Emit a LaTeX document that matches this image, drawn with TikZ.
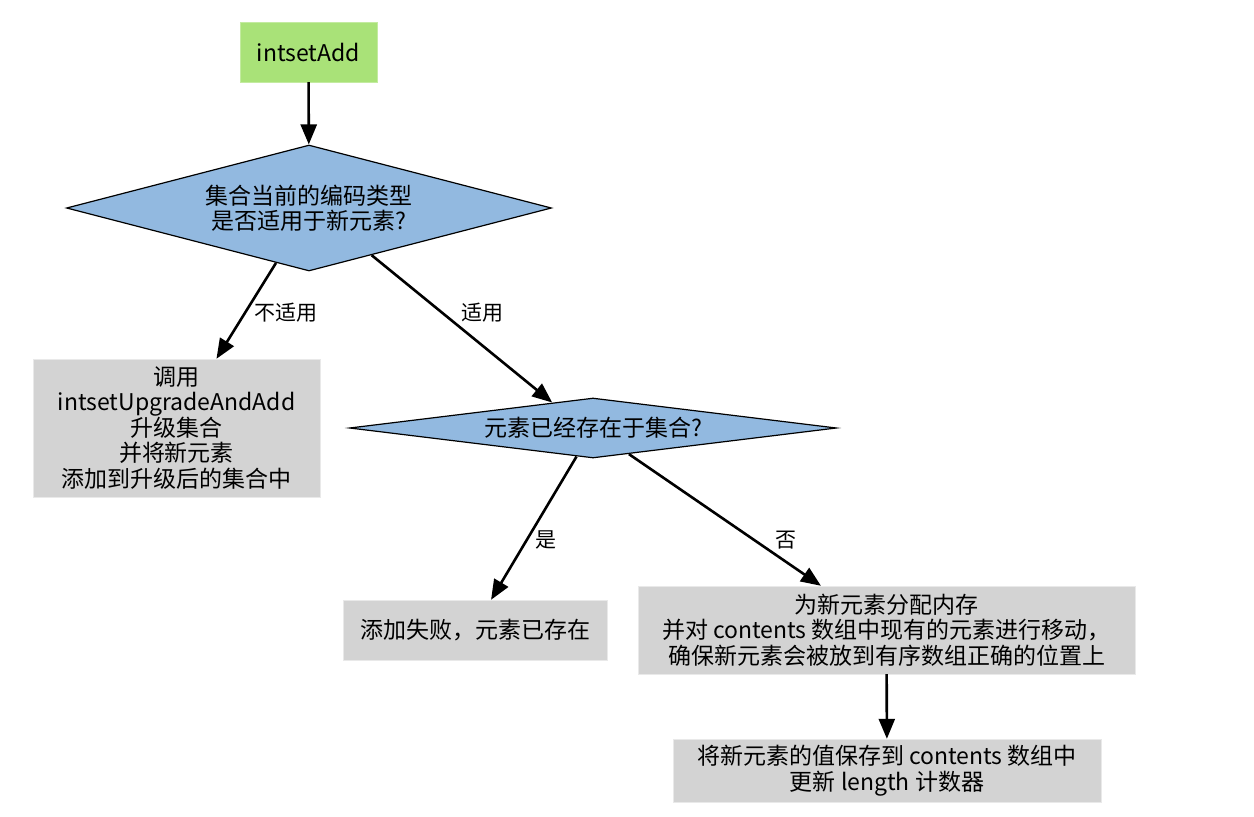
\documentclass[tikz,border=0pt]{standalone}
\usepackage{fontspec}
\setmainfont{Noto Sans CJK SC}
\usetikzlibrary{shapes.geometric,arrows.meta}
\definecolor{vertdebut}{RGB}{169,226,120}
\definecolor{bleutest}{RGB}{146,185,224}
\definecolor{grisaction}{RGB}{211,211,211}
\begin{document}
\begin{tikzpicture}[x=1pt,y=-1pt]
% Styles
\tikzstyle{texte}=[font=\fontsize{23}{25.5}\selectfont]
\tikzstyle{debut}=[texte,rectangle,fill=vertdebut,draw=vertdebut!70!white,minimum width=137pt,minimum height=60pt]
\tikzstyle{action}=[texte,rectangle,fill=grisaction,draw=grisaction!50!white,align=center,inner sep=0pt]
\tikzstyle{test}=[texte,diamond,fill=bleutest,draw=black,line width=1.2pt,align=center,inner sep=0pt]
\tikzstyle{fleche}=[-{Triangle[length=20pt,width=16pt]},line width=2.6pt]
\tikzstyle{etiquette}=[font=\fontsize{21}{23}\selectfont]
% Cadre de la page
\useasboundingbox (0,0) rectangle (1254,817);
% Noeuds
\node[debut] (add) at (308.5,52) {intsetAdd};
\node[test,shape aspect=3.85,minimum width=485pt,minimum height=126pt] (encodage) at (309,208) {集合当前的编码类型\\是否适用于新元素?};
\node[action,minimum width=287pt,minimum height=138pt] (upgrade) at (176.5,428) {调用\\intsetUpgradeAndAdd\\升级集合\\并将新元素\\添加到升级后的集合中};
\node[test,shape aspect=8.1,minimum width=487pt,minimum height=60pt] (existe) at (593,428) {元素已经存在于集合?};
\node[action,minimum width=264pt,minimum height=60pt] (echec) at (475,630) {添加失败，元素已存在};
\node[action,minimum width=497pt,minimum height=88pt] (memoire) at (886.5,630) {为新元素分配内存\\并对 contents 数组中现有的元素进行移动，\\确保新元素会被放到有序数组正确的位置上};
\node[action,minimum width=428pt,minimum height=63pt] (sauve) at (887,770.5) {将新元素的值保存到 contents 数组中\\更新 length 计数器};
% Etiquettes
\node[etiquette] (lnon) at (286,313) {不适用};
\node[etiquette] (loui) at (482,313) {适用};
\node[etiquette] (lest) at (546,540) {是};
\node[etiquette] (lpas) at (786,540) {否};
% Flèches
\draw[fleche] (add) -- (encodage);
\draw[fleche] (encodage.239) -- (upgrade.60);
\draw[fleche] (encodage.323) -- (existe.148);
\draw[fleche] (existe.240) -- (echec.62);
\draw[fleche] (existe.324) -- (memoire.146);
\draw[fleche] (memoire) -- (sauve);
\end{tikzpicture}
\end{document}
